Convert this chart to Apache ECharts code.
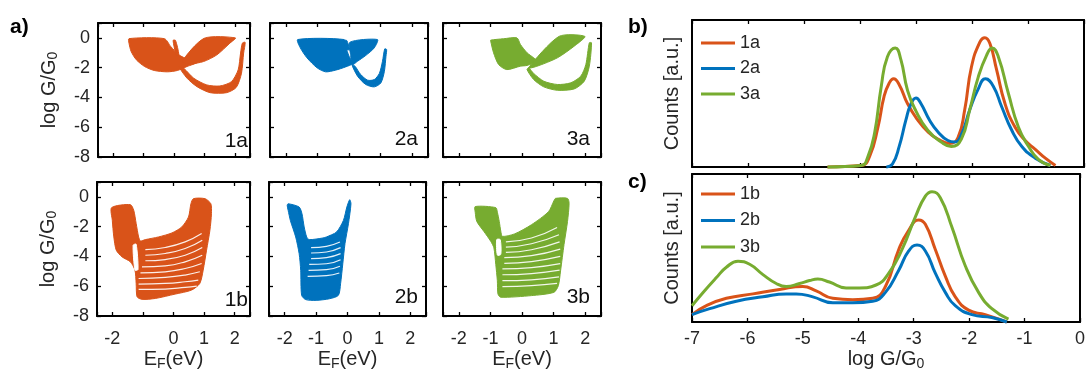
<!DOCTYPE html>
<html><head><meta charset="utf-8">
<script src="https://cdn.jsdelivr.net/npm/echarts@6/dist/echarts.min.js"></script>
<style>html,body{margin:0;padding:0;background:#fff}#chart{width:1088px;height:377px}</style>
</head><body><div id="chart"></div>
<script>
// ---------------- DATA ----------------
// Panel titles
const panelNames = ['1a', '2a', '3a', '1b', '2b', '3b'];
const histNamesA = ['1a', '2a', '3a'];
const histNamesB = ['1b', '2b', '3b'];

// Left panels: regions covered by the families of log G/G0 vs E_F curves (E_F [eV], log G/G0)
const p1aLobe  = [[-1.48,-0.05],[-0.32,-0.05],[-0.11,-0.57],[0.16,-1.14],[0.49,-1.47],[0.76,-1.65],[0.43,-1.92],[0.11,-2.19],[-0.22,-2.28],[-0.65,-2.19],[-0.97,-1.92],[-1.24,-1.47],[-1.41,-0.91],[-1.48,-0.35]];
const p1aWing  = [[0.27,-1.59],[0.99,-0.03],[2.02,0.0],[1.84,-0.35],[1.41,-1.14],[0.97,-1.59],[0.54,-1.74]];
const p1aSpike = [[-0.03,-0.17],[0.05,-0.17],[0.16,-1.14],[0.08,-1.18]];
const p1aHook  = [[0.16,-1.92],[0.43,-2.71],[0.76,-3.28],[1.19,-3.68],[1.73,-3.68],[2.05,-3.32],[2.22,-2.37],[2.29,-1.02],[2.34,-0.30],[2.25,-0.35],[2.19,-1.02],[2.11,-2.15],[1.89,-2.94],[1.51,-3.23],[1.08,-3.16],[0.65,-2.71],[0.32,-2.04]];

const p2aLobe  = [[-1.62,-0.11],[-0.16,-0.11],[-0.11,-0.56],[0.0,-1.23],[0.11,-1.72],[-0.11,-1.95],[-0.43,-2.17],[-0.74,-2.28],[-1.01,-2.01],[-1.33,-1.34],[-1.54,-0.67]];
const p2aSpike = [[-0.16,-0.18],[-0.07,-0.18],[0.01,-0.78],[-0.08,-0.78]];
const p2aWing  = [[0.03,-0.29],[0.90,-0.11],[0.80,-0.67],[0.53,-1.18],[0.27,-1.57],[0.11,-1.79],[0.05,-1.12]];
const p2aHook  = [[0.09,-1.79],[0.27,-2.57],[0.53,-3.13],[0.80,-3.29],[1.01,-3.02],[1.12,-2.24],[1.17,-1.23],[1.19,-0.78],[1.13,-0.74],[1.06,-1.57],[0.96,-2.39],[0.80,-2.80],[0.59,-2.84],[0.37,-2.46],[0.19,-1.90]];

const p3aLobe  = [[-0.99,-0.15],[-0.59,-0.06],[-0.16,0.0],[-0.05,-0.44],[0.16,-1.0],[0.37,-1.34],[0.48,-1.57],[0.16,-1.85],[-0.05,-1.90],[-0.48,-2.13],[-0.74,-1.79],[-0.90,-1.0],[-0.99,-0.22]];
const p3aWing  = [[0.21,-2.01],[1.17,0.10],[1.99,0.10],[1.65,-0.56],[1.12,-1.34],[0.48,-1.90]];
const p3aHook  = [[0.16,-2.13],[0.37,-2.80],[0.69,-3.29],[1.12,-3.52],[1.65,-3.43],[1.97,-2.91],[2.13,-1.90],[2.20,-0.33],[2.13,-0.33],[2.02,-1.79],[1.86,-2.57],[1.54,-3.02],[1.12,-3.13],[0.69,-2.91],[0.37,-2.39],[0.21,-2.01]];

const p1bBody = [[-2.02,-0.72],[-1.41,-0.52],[-1.30,-0.90],[-1.22,-1.79],[-1.14,-2.69],[-1.08,-2.96],[-0.92,-2.87],[-0.49,-2.69],[-0.05,-2.42],[0.27,-2.02],[0.49,-1.35],[0.57,-0.46],[0.65,-0.12],[1.03,-0.12],[1.22,-0.46],[1.24,-1.13],[1.19,-2.24],[1.08,-3.58],[0.97,-4.92],[0.86,-5.81],[0.59,-6.26],[0.05,-6.53],[-0.59,-6.82],[-1.03,-6.88],[-1.19,-6.71],[-1.22,-5.81],[-1.26,-4.92],[-1.41,-4.36],[-1.68,-4.03],[-1.87,-3.58],[-1.95,-2.69],[-2.0,-1.57]];
const p1bSlit = [[-1.32,-3.25],[-1.22,-3.18],[-1.16,-4.88],[-1.26,-4.92]];
const p1bGaps = [
  [[-0.92,-3.54],[-0.27,-3.40],[0.38,-3.02],[0.92,-2.46]],
  [[-0.92,-3.92],[-0.27,-3.80],[0.38,-3.47],[0.94,-2.91]],
  [[-0.92,-4.29],[-0.27,-4.21],[0.38,-3.92],[0.94,-3.40]],
  [[-1.03,-4.70],[-0.27,-4.63],[0.38,-4.36],[0.94,-3.92]],
  [[-1.08,-5.10],[-0.27,-5.03],[0.38,-4.81],[0.92,-4.47]],
  [[-1.14,-5.48],[-0.27,-5.41],[0.38,-5.25],[0.86,-5.03]],
  [[-1.14,-5.86],[-0.27,-5.81],[0.38,-5.70],[0.81,-5.59]],
  [[-1.14,-6.21],[-0.27,-6.19],[0.38,-6.08],[0.76,-5.99]]
];

const p2bBody = [[-1.92,-0.57],[-1.89,-0.46],[-1.54,-0.68],[-1.45,-1.13],[-1.38,-2.02],[-1.30,-2.69],[-1.22,-2.87],[-0.78,-2.76],[-0.67,-2.69],[-0.35,-2.36],[-0.13,-1.58],[-0.02,-0.68],[0.07,-0.19],[0.11,-0.46],[0.03,-1.80],[-0.08,-3.14],[-0.15,-4.49],[-0.22,-5.83],[-0.29,-6.61],[-0.57,-6.84],[-1.0,-6.95],[-1.33,-6.90],[-1.46,-6.61],[-1.49,-4.93],[-1.54,-3.81],[-1.65,-2.69],[-1.82,-1.58],[-1.89,-0.90]];
const p2bGaps = [
  [[-1.16,-3.41],[-0.67,-3.32],[-0.24,-3.03]],
  [[-1.16,-3.77],[-0.67,-3.70],[-0.22,-3.41]],
  [[-1.16,-4.15],[-0.67,-4.08],[-0.22,-3.81]],
  [[-1.22,-4.53],[-0.67,-4.49],[-0.22,-4.22]],
  [[-1.24,-4.93],[-0.67,-4.89],[-0.24,-4.66]],
  [[-1.27,-5.34],[-0.67,-5.29],[-0.26,-5.11]]
];

const p3bBody = [[-1.48,-0.65],[-0.83,-0.72],[-0.78,-1.03],[-0.72,-1.65],[-0.67,-2.31],[-0.62,-2.65],[-0.24,-2.49],[0.30,-1.87],[0.84,-0.99],[1.01,-0.26],[1.06,-0.10],[1.44,-0.10],[1.49,-0.43],[1.44,-1.65],[1.33,-3.20],[1.22,-4.97],[1.15,-5.96],[1.01,-6.41],[0.30,-6.63],[-0.67,-6.74],[-0.76,-6.52],[-0.78,-5.63],[-0.83,-4.53],[-0.89,-3.42],[-0.99,-2.98],[-1.21,-2.31],[-1.43,-1.65],[-1.48,-1.03]];
const p3bSlit = [[-0.80,-2.87],[-0.69,-2.87],[-0.67,-3.86],[-0.78,-3.91]];
const p3bGaps = [
  [[-0.51,-3.02],[0.30,-2.76],[1.11,-2.05]],
  [[-0.51,-3.38],[0.30,-3.15],[1.17,-2.54]],
  [[-0.51,-3.73],[0.30,-3.55],[1.19,-3.02]],
  [[-0.56,-4.08],[0.30,-3.95],[1.21,-3.51]],
  [[-0.56,-4.46],[0.30,-4.35],[1.21,-4.00]],
  [[-0.62,-4.84],[0.30,-4.75],[1.21,-4.48]],
  [[-0.62,-5.23],[0.30,-5.15],[1.19,-4.92]],
  [[-0.62,-5.63],[0.30,-5.57],[1.17,-5.37]],
  [[-0.62,-6.03],[0.30,-5.96],[1.11,-5.81]]
];

// Right panels: conductance histograms (log G/G0, counts a.u.)
const hist1a = [[-4.58,0.0],[-3.98,0.01],[-3.83,0.07],[-3.68,0.27],[-3.57,0.48],[-3.48,0.57],[-3.40,0.60],[-3.30,0.56],[-3.15,0.43],[-2.97,0.32],[-2.79,0.24],[-2.61,0.19],[-2.40,0.16],[-2.25,0.20],[-2.13,0.39],[-2.01,0.68],[-1.86,0.85],[-1.77,0.88],[-1.68,0.84],[-1.56,0.66],[-1.41,0.43],[-1.23,0.27],[-1.05,0.18],[-0.87,0.12],[-0.69,0.06],[-0.51,0.01]];
const hist2a = [[-3.53,0.0],[-3.42,0.02],[-3.30,0.14],[-3.18,0.32],[-3.09,0.43],[-3.00,0.47],[-2.91,0.43],[-2.76,0.32],[-2.61,0.24],[-2.43,0.18],[-2.31,0.17],[-2.19,0.22],[-2.04,0.39],[-1.89,0.53],[-1.76,0.60],[-1.62,0.55],[-1.47,0.41],[-1.29,0.25],[-1.11,0.14],[-0.87,0.06],[-0.60,0.01]];
const hist3a = [[-4.58,0.0],[-3.98,0.01],[-3.86,0.07],[-3.74,0.23],[-3.62,0.55],[-3.51,0.75],[-3.37,0.81],[-3.27,0.73],[-3.15,0.52],[-3.00,0.38],[-2.79,0.25],[-2.55,0.17],[-2.37,0.14],[-2.19,0.19],[-2.04,0.39],[-1.89,0.61],[-1.74,0.76],[-1.64,0.81],[-1.53,0.75],[-1.35,0.50],[-1.17,0.27],[-0.99,0.14],[-0.81,0.05],[-0.60,0.01]];
const hist1b = [[-7.0,0.05],[-6.74,0.11],[-6.38,0.16],[-5.90,0.19],[-5.42,0.22],[-5.00,0.24],[-4.76,0.21],[-4.46,0.16],[-4.10,0.15],[-3.74,0.16],[-3.51,0.24],[-3.27,0.49],[-3.09,0.62],[-2.91,0.69],[-2.79,0.66],[-2.61,0.49],[-2.43,0.31],[-2.25,0.17],[-2.01,0.08],[-1.71,0.05],[-1.32,0.0]];
const hist2b = [[-7.0,0.05],[-6.68,0.09],[-6.20,0.14],[-5.72,0.17],[-5.30,0.19],[-5.12,0.19],[-4.82,0.17],[-4.46,0.13],[-4.10,0.13],[-3.74,0.14],[-3.51,0.20],[-3.27,0.35],[-3.09,0.48],[-2.94,0.52],[-2.79,0.48],[-2.61,0.33],[-2.43,0.20],[-2.25,0.11],[-1.95,0.05],[-1.59,0.03],[-1.32,0.0]];
const hist3b = [[-7.0,0.11],[-6.80,0.20],[-6.56,0.30],[-6.38,0.37],[-6.17,0.41],[-5.96,0.39],[-5.72,0.32],[-5.48,0.26],[-5.30,0.24],[-5.06,0.26],[-4.88,0.28],[-4.73,0.29],[-4.52,0.27],[-4.22,0.23],[-3.98,0.23],[-3.68,0.25],[-3.45,0.33],[-3.21,0.49],[-2.97,0.71],[-2.79,0.85],[-2.67,0.88],[-2.52,0.84],[-2.31,0.64],[-2.07,0.38],[-1.83,0.20],[-1.59,0.09],[-1.29,0.02]];

// ---------------- STYLE / LAYOUT ----------------
const FONT = 'Liberation Sans, Arial, Helvetica, sans-serif';
const TXT = '#262626';
const ORANGE = '#D95319', BLUE = '#0072BD', GREEN = '#77AC30';

const grids = [
  {left: 98, top: 23, width: 152, height: 134},
  {left: 270, top: 23, width: 158, height: 134},
  {left: 443, top: 23, width: 158, height: 134},
  {left: 97, top: 182, width: 153, height: 134},
  {left: 269, top: 182, width: 157, height: 134},
  {left: 443, top: 182, width: 158, height: 134},
  {left: 692, top: 20, width: 392, height: 147},
  {left: 692, top: 174, width: 392, height: 148}
];

const xAxes = [], yAxes = [], series = [];
const lineStyle = {color: '#000', width: 2};
const tickStyle = {show: true, inside: true, length: 4, lineStyle: {color: '#000', width: 1.3}};
const subRich = {s: {fontSize: 14, lineHeight: 13, verticalAlign: 'bottom', fontFamily: FONT, color: TXT}};

function smallPanel(g, showXLab, showYLab, hiddenX) {
  const xi = xAxes.length, yi = yAxes.length;
  const xFmt = v => {
    const r = Math.round(v);
    if (Math.abs(v - r) > 1e-6 || hiddenX.indexOf(r) >= 0) return '';
    return String(r);
  };
  const base = {gridIndex: g, type: 'value', min: -2.5, max: 2.5, splitNumber: 5,
    axisLine: {show: true, onZero: false, lineStyle}, axisTick: tickStyle, splitLine: {show: false}};
  xAxes.push(Object.assign({}, base, {position: 'bottom',
    axisLabel: {show: showXLab, formatter: xFmt, margin: 14, fontSize: 18, fontFamily: FONT, color: TXT},
    name: showXLab ? 'E{s|F}(eV)' : '', nameLocation: 'middle', nameGap: 30,
    nameTextStyle: {fontSize: 20, lineHeight: 22, fontFamily: FONT, color: TXT, rich: subRich}}));
  xAxes.push(Object.assign({}, base, {position: 'top', axisLabel: {show: false}}));
  const ybase = {gridIndex: g, type: 'value', min: -8, max: 1, interval: 2,
    axisLine: {show: true, onZero: false, lineStyle}, axisTick: tickStyle, splitLine: {show: false}};
  yAxes.push(Object.assign({}, ybase, {position: 'left',
    axisLabel: {show: showYLab, formatter: v => (v <= 0 ? String(v) : ''), margin: 8, fontSize: 18, fontFamily: FONT, color: TXT},
    name: showYLab ? 'log G/G{s|0}' : '', nameLocation: 'middle', nameGap: 38, nameRotate: 90,
    nameTextStyle: {fontSize: 20, lineHeight: 22, fontFamily: FONT, color: TXT, rich: subRich}}));
  yAxes.push(Object.assign({}, ybase, {position: 'right', axisLabel: {show: false}}));
  return {xi, yi};
}

function histPanel(g, showXLab) {
  const xi = xAxes.length, yi = yAxes.length;
  const base = {gridIndex: g, type: 'value', min: -7, max: 0, interval: 1,
    axisLine: {show: true, onZero: false, lineStyle}, axisTick: tickStyle, splitLine: {show: false}};
  xAxes.push(Object.assign({}, base, {position: 'bottom',
    axisLabel: {show: showXLab, margin: 8, fontSize: 18, fontFamily: FONT, color: TXT},
    name: showXLab ? 'log G/G{s|0}' : '', nameLocation: 'middle', nameGap: 26,
    nameTextStyle: {fontSize: 20, lineHeight: 22, fontFamily: FONT, color: TXT, rich: subRich}}));
  xAxes.push(Object.assign({}, base, {position: 'top', axisLabel: {show: false}}));
  const ybase = {gridIndex: g, type: 'value', min: 0, max: 1,
    axisLine: {show: true, onZero: false, lineStyle}, axisTick: {show: false}, axisLabel: {show: false}, splitLine: {show: false}};
  yAxes.push(Object.assign({}, ybase, {position: 'left', name: 'Counts [a.u.]', nameLocation: 'middle', nameGap: 10, nameRotate: 90,
    nameTextStyle: {fontSize: 20, lineHeight: 20, fontFamily: FONT, color: TXT}}));
  yAxes.push(Object.assign({}, ybase, {position: 'right'}));
  return {xi, yi};
}

function polySeries(ax, data, color, z) {
  return {
    type: 'custom', xAxisIndex: ax.xi, yAxisIndex: ax.yi, data: data, z: z, silent: true,
    renderItem: function (params, api) {
      if (params.dataIndexInside !== 0) return null;
      const n = params.dataInsideLength;
      const pts = [];
      for (let i = 0; i < n; i++) pts.push(api.coord([api.value(0, i), api.value(1, i)]));
      return {type: 'polygon', shape: {points: pts, smooth: 0.25}, style: {fill: color, stroke: color, lineWidth: 1}};
    }
  };
}
function gapSeries(ax, data, z) {
  return {type: 'line', xAxisIndex: ax.xi, yAxisIndex: ax.yi, data: data, smooth: 0.5, symbol: 'none',
    silent: true, z: z, lineStyle: {color: '#fff', width: 1.2, opacity: 0.9}};
}
function histSeries(ax, name, data, color) {
  return {type: 'line', name: name, xAxisIndex: ax.xi, yAxisIndex: ax.yi, data: data, smooth: 0.5,
    symbol: 'none', clip: false, color: color,
    lineStyle: {color: color, width: 3}, itemStyle: {color: color}};
}

// Panels
const a1 = smallPanel(0, false, true, []);
const a2 = smallPanel(1, false, false, []);
const a3 = smallPanel(2, false, false, []);
const b1 = smallPanel(3, true, true, [-1]);
const b2 = smallPanel(4, true, false, []);
const b3 = smallPanel(5, true, false, []);
const hb = histPanel(6, false);
const hc = histPanel(7, true);

[p1aLobe, p1aWing, p1aSpike, p1aHook].forEach(p => series.push(polySeries(a1, p, ORANGE, 2)));
[p2aLobe, p2aSpike, p2aWing, p2aHook].forEach(p => series.push(polySeries(a2, p, BLUE, 2)));
[p3aLobe, p3aWing, p3aHook].forEach(p => series.push(polySeries(a3, p, GREEN, 2)));

series.push(polySeries(b1, p1bBody, ORANGE, 2));
series.push(polySeries(b1, p1bSlit, '#fff', 3));
p1bGaps.forEach(g => series.push(gapSeries(b1, g, 3)));

series.push(polySeries(b2, p2bBody, BLUE, 2));
p2bGaps.forEach(g => series.push(gapSeries(b2, g, 3)));

series.push(polySeries(b3, p3bBody, GREEN, 2));
series.push(polySeries(b3, p3bSlit, '#fff', 3));
p3bGaps.forEach(g => series.push(gapSeries(b3, g, 3)));

series.push(histSeries(hb, histNamesA[0], hist1a, ORANGE));
series.push(histSeries(hb, histNamesA[1], hist2a, BLUE));
series.push(histSeries(hb, histNamesA[2], hist3a, GREEN));
series.push(histSeries(hc, histNamesB[0], hist1b, ORANGE));
series.push(histSeries(hc, histNamesB[1], hist2b, BLUE));
series.push(histSeries(hc, histNamesB[2], hist3b, GREEN));

const legendText = {fontSize: 18, lineHeight: 16, fontFamily: FONT, color: TXT};
const legends = [
  {data: histNamesA, orient: 'vertical', left: 701, top: 34, icon: 'rect', itemWidth: 34, itemHeight: 3,
   itemGap: 7.5, padding: 0, selectedMode: false, textStyle: legendText},
  {data: histNamesB, orient: 'vertical', left: 701, top: 185, icon: 'rect', itemWidth: 34, itemHeight: 3,
   itemGap: 8.5, padding: 0, selectedMode: false, textStyle: legendText}
];

const labelPos = [[248, 141], [418, 139], [590, 139], [248, 300], [418, 297], [590, 297]];
const graphics = [
  {type: 'text', x: 10, y: 27, style: {text: 'a)', font: 'bold 21px ' + FONT, fill: '#000', verticalAlign: 'middle', textVerticalAlign: 'middle'}},
  {type: 'text', x: 628, y: 27, style: {text: 'b)', font: 'bold 21px ' + FONT, fill: '#000', verticalAlign: 'middle', textVerticalAlign: 'middle'}},
  {type: 'text', x: 628, y: 182, style: {text: 'c)', font: 'bold 21px ' + FONT, fill: '#000', verticalAlign: 'middle', textVerticalAlign: 'middle'}}
];
panelNames.forEach((n, i) => graphics.push({type: 'text', x: labelPos[i][0], y: labelPos[i][1], z: 10,
  style: {text: n, font: '21px ' + FONT, fill: '#111', align: 'right', textAlign: 'right', verticalAlign: 'middle', textVerticalAlign: 'middle'}}));

const chart = echarts.init(document.getElementById('chart'), null, {renderer: 'canvas'});
chart.setOption({
  animation: false,
  backgroundColor: '#fff',
  grid: grids.map(g => Object.assign({containLabel: false}, g)),
  xAxis: xAxes,
  yAxis: yAxes,
  legend: legends,
  graphic: graphics,
  series: series
});
</script>
</body></html>
